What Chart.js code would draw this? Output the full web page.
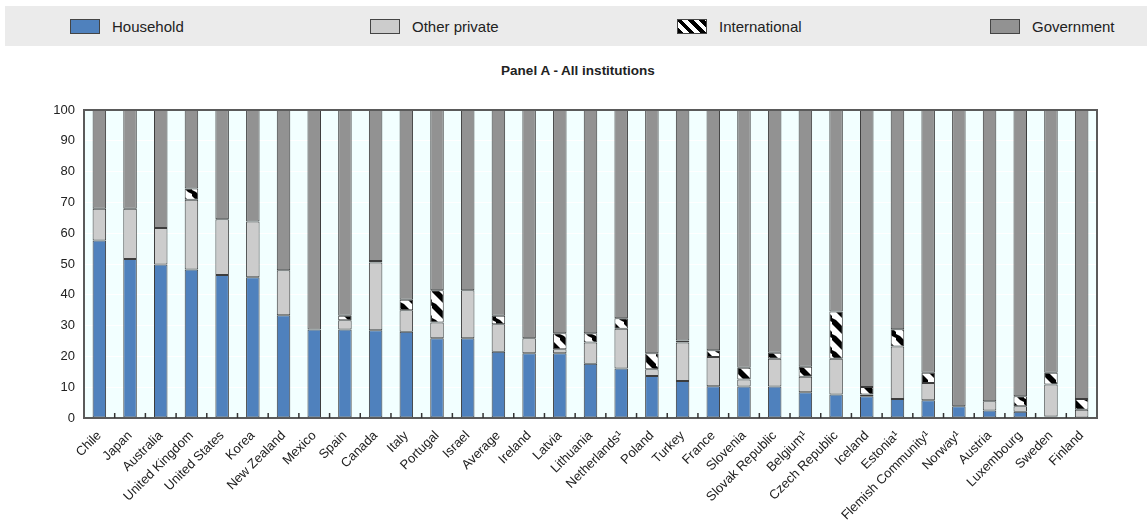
<!DOCTYPE html>
<html>
<head>
<meta charset="utf-8">
<script src="https://cdn.jsdelivr.net/npm/chart.js@4/dist/chart.umd.min.js"></script>
<style>
  html, body { margin:0; padding:0; background:#ffffff; width:1147px; height:526px; overflow:hidden; }
  body { position:relative; font-family:'Liberation Sans',Arial,sans-serif; }
  #legend { position:absolute; left:5px; top:6px; width:1142px; height:40px; background:#ebebeb; }
  .item { position:absolute; top:0; height:40px; display:flex; align-items:center; font-size:15px; color:#222; }
  .box { width:30px; height:15px; border:1px solid #444; margin-right:12px; box-sizing:border-box; }
  #title { position:absolute; top:63px; left:378px; width:400px; text-align:center; font-weight:bold; font-size:13.5px; color:#222; line-height:16px; }
  #wrap { position:absolute; left:0; top:48px; width:1147px; height:478px; }
</style>
</head>
<body>
<div id="legend"></div>
<div id="title">Panel A - All institutions</div>
<div id="wrap"><canvas id="c"></canvas></div>
<script>
const categories = ["Chile","Japan","Australia","United Kingdom","United States","Korea","New Zealand","Mexico","Spain","Canada","Italy","Portugal","Israel","Average","Ireland","Latvia","Lithuania","Netherlands¹","Poland","Turkey","France","Slovenia","Slovak Republic","Belgium¹","Czech Republic","Iceland","Estonia¹","Flemish Community¹","Norway¹","Austria","Luxembourg","Sweden","Finland"];
const household     = [57.6,51.6,49.8,48.2,46.4,45.7,33.4,28.7,28.7,28.5,28.0,25.9,25.9,21.5,21.0,21.0,17.6,16.1,13.6,12.0,10.3,10.2,10.2,8.4,7.6,7.1,6.2,5.8,3.8,2.4,2.0,0.5,0];
const otherPrivate  = [10.3,16.3,11.9,22.7,18.1,18.1,14.6,0,3.0,22.0,7.0,5.1,15.6,8.9,4.9,1.3,6.9,12.9,2.2,12.5,9.5,2.3,9.0,5.0,11.6,0.5,17.0,5.6,0,3.0,1.8,10.4,2.7];
const international = [0,0,0,3.6,0,0,0,0,1.5,0.5,3.4,10.5,0,2.8,0,5.2,3.0,3.4,5.2,0.7,2.2,3.8,2.0,3.2,15.4,2.5,5.6,3.3,0,0,3.3,3.8,3.5];
const government    = [32.1,32.1,38.3,25.5,35.5,36.2,52.0,71.3,66.8,49.0,61.6,58.5,58.5,66.8,74.1,72.5,72.5,67.6,79.0,74.8,78.0,83.7,78.8,83.4,65.4,89.9,71.2,85.3,96.2,94.6,92.9,85.3,93.8];
const seriesNames = ["Household","Other private","International","Government"];
const yTicks = [0,10,20,30,40,50,60,70,80,90,100];

// hatch pattern for International
function makeHatch() {
  const s = 16, cv = document.createElement('canvas');
  cv.width = s; cv.height = s;
  const g = cv.getContext('2d');
  g.fillStyle = '#ffffff'; g.fillRect(0,0,s,s);
  g.fillStyle = '#000000';
  const w = 4;
  g.beginPath(); g.moveTo(-w,0); g.lineTo(w,0); g.lineTo(s+w,s); g.lineTo(s-w,s); g.closePath(); g.fill();
  g.beginPath(); g.moveTo(s-w,0); g.lineTo(s+w,0); g.lineTo(s+w,w); g.closePath(); g.fill();
  g.beginPath(); g.moveTo(-w,s-w); g.lineTo(w,s); g.lineTo(-w,s); g.closePath(); g.fill();
  return document.getElementById('c').getContext('2d').createPattern(cv,'repeat');
}
const colors = ['#4f81bd','#cccccc', makeHatch(), '#929292'];

// HTML legend
const legendPos = [70, 370, 677, 990];
const legendCss = ['background:#4f81bd','background:#cccccc',
  'background:repeating-linear-gradient(45deg,#000 0 4px,#fff 4px 8px)','background:#929292'];
const lg = document.getElementById('legend');
seriesNames.forEach((n,i)=>{
  const d = document.createElement('div'); d.className='item'; d.style.left=(legendPos[i]-5)+'px';
  d.innerHTML = '<span class="box" style="'+legendCss[i]+'"></span><span>'+n+'</span>';
  lg.appendChild(d);
});

const bgPlugin = {
  id:'bg',
  beforeDraw(chart){
    const {ctx, chartArea:a} = chart;
    ctx.save(); ctx.fillStyle='#f2ffff'; ctx.fillRect(a.left,a.top,a.right-a.left,a.bottom-a.top); ctx.restore();
  },
  afterDraw(chart){
    const {ctx, chartArea:a, scales} = chart;
    ctx.save();
    ctx.strokeStyle='#5a5a5a'; ctx.lineWidth=2;
    ctx.strokeRect(a.left,a.top,a.right-a.left,a.bottom-a.top);
    // inner tick marks at category boundaries
    ctx.lineWidth=1.5; ctx.strokeStyle='#333';
    const x = scales.x;
    for (let i=1;i<categories.length;i++){
      const px = (x.getPixelForValue(i-1)+x.getPixelForValue(i))/2;
      ctx.beginPath(); ctx.moveTo(px,a.bottom); ctx.lineTo(px,a.bottom-5); ctx.stroke();
    }
    ctx.restore();
  }
};

const dsCommon = {borderColor:'#3c3c3c', borderWidth:1, borderSkipped:false, barPercentage:0.44, categoryPercentage:1.0};
const data = {
  labels: categories,
  datasets: [household, otherPrivate, international, government].map((v,i)=>Object.assign({
    label: seriesNames[i], data: v, backgroundColor: colors[i]
  }, dsCommon))
};

Chart.defaults.font.family = "'Liberation Sans',Arial,sans-serif";
new Chart(document.getElementById('c'), {
  type:'bar',
  data,
  options:{
    responsive:true, maintainAspectRatio:false, animation:false,
    layout:{padding:{left:0,right:50,top:62,bottom:0}},
    plugins:{
      legend:{display:false},
      tooltip:{enabled:false},
      title:{display:false}
    },
    scales:{
      x:{stacked:true, grid:{display:false}, border:{display:false},
         ticks:{color:'#222', font:{size:13}, minRotation:45, maxRotation:45, autoSkip:false, padding:2},
         afterFit(s){ s.height = 108; }},
      y:{stacked:true, min:0, max:100,
         afterBuildTicks(s){ s.ticks = yTicks.map(v=>({value:v})); },
         grid:{color:'#ffffff', drawTicks:false}, border:{display:false},
         ticks:{color:'#222', font:{size:13}, padding:9},
         afterFit(s){ s.width = 84; }}
    }
  },
  plugins:[bgPlugin]
});
</script>
</body>
</html>
